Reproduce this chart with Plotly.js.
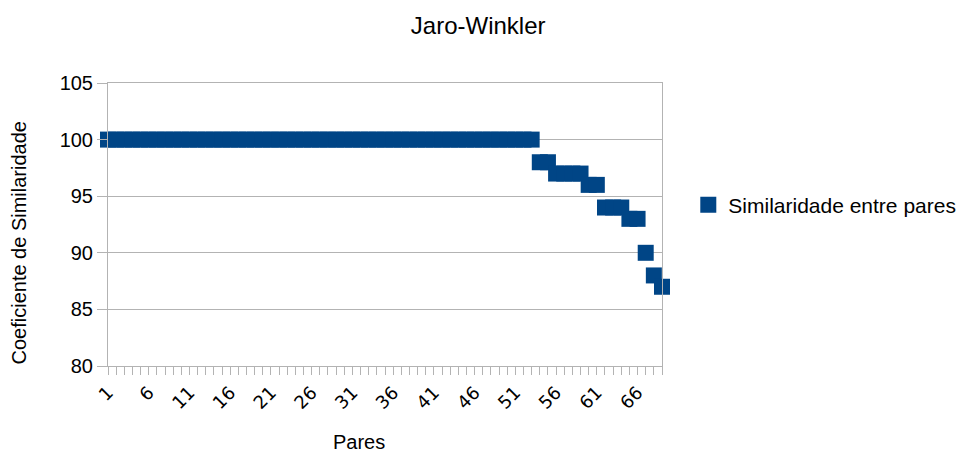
<!DOCTYPE html>
<html>
<head>
<meta charset="utf-8">
<script src="https://cdn.plot.ly/plotly-3.0.1.min.js"></script>
<style>
  html, body { margin: 0; padding: 0; background: #ffffff; }
  #chart { width: 964px; height: 453px; }
</style>
</head>
<body>
<div id="chart"></div>
<script>
// Pair numbers (x) and their Jaro-Winkler similarity score (%)
const pares = [
  1, 2, 3, 4, 5, 6, 7, 8, 9, 10, 11, 12, 13, 14, 15, 16, 17, 18, 19, 20,
  21, 22, 23, 24, 25, 26, 27, 28, 29, 30, 31, 32, 33, 34, 35, 36, 37, 38, 39, 40,
  41, 42, 43, 44, 45, 46, 47, 48, 49, 50, 51, 52, 53, 54, 55, 56, 57, 58, 59, 60,
  61, 62, 63, 64, 65, 66, 67, 68, 69
];
const similaridade = [
  100, 100, 100, 100, 100, 100, 100, 100, 100, 100, 100, 100, 100, 100, 100, 100, 100, 100, 100, 100,
  100, 100, 100, 100, 100, 100, 100, 100, 100, 100, 100, 100, 100, 100, 100, 100, 100, 100, 100, 100,
  100, 100, 100, 100, 100, 100, 100, 100, 100, 100, 100, 100, 100, 98, 98, 97, 97, 97, 97, 96,
  96, 94, 94, 94, 93, 93, 90, 88, 87
];
const xTickVals = [1, 6, 11, 16, 21, 26, 31, 36, 41, 46, 51, 56, 61, 66];
const xTickText = ['1', '6', '11', '16', '21', '26', '31', '36', '41', '46', '51', '56', '61', '66'];
const yTickVals = [80, 85, 90, 95, 100, 105];

const FONT = 'Liberation Sans, Arial, sans-serif';
const TICK_FONT = 'DejaVu Sans, sans-serif';
const GRID = '#b3b3b3';

const trace = {
  type: 'scatter',
  mode: 'markers',
  x: pares,
  y: similaridade,
  name: 'Similaridade entre pares',
  cliponaxis: false,
  marker: { symbol: 'square', size: 16, color: '#004586', line: { width: 0 } }
};

const layout = {
  width: 964,
  height: 453,
  paper_bgcolor: '#ffffff',
  plot_bgcolor: '#ffffff',
  margin: { l: 108, r: 302, t: 83, b: 87, pad: 0 },
  font: { family: FONT, color: '#000000' },
  title: {
    text: 'Jaro-Winkler',
    font: { family: FONT, size: 24, color: '#000000' },
    xref: 'container', yref: 'container',
    x: 0.496, xanchor: 'center',
    y: 0.943, yanchor: 'middle'
  },
  xaxis: {
    range: [1, 69],
    tickmode: 'array',
    tickvals: xTickVals,
    ticktext: xTickText,
    tickangle: -45,
    tickfont: { family: TICK_FONT, size: 18, color: '#000000' },
    ticks: 'outside',
    ticklen: 8,
    tickcolor: GRID,
    tickwidth: 1,
    minor: { dtick: 1, tick0: 1, ticks: 'outside', ticklen: 8, tickcolor: GRID, tickwidth: 1, showgrid: false },
    showgrid: false,
    zeroline: false,
    showline: true,
    linecolor: GRID,
    linewidth: 1,
    mirror: true,
    fixedrange: true
  },
  yaxis: {
    range: [80, 105],
    tickmode: 'array',
    tickvals: yTickVals,
    tickfont: { family: FONT, size: 20, color: '#000000' },
    ticks: 'outside',
    ticklen: 10,
    tickcolor: GRID,
    showgrid: true,
    gridcolor: GRID,
    gridwidth: 1,
    zeroline: false,
    showline: true,
    linecolor: GRID,
    linewidth: 1,
    mirror: true,
    fixedrange: true
  },
  showlegend: true,
  legend: {
    xref: 'container', yref: 'container',
    x: 0.714, xanchor: 'left',
    y: 0.547, yanchor: 'middle',
    font: { family: FONT, size: 21, color: '#000000' },
    bgcolor: 'rgba(0,0,0,0)'
  },
  annotations: [
    {
      text: 'Coeficiente de Similaridade',
      xref: 'paper', yref: 'paper',
      x: (18.5 - 108) / 554, y: (366 - 243) / 283,
      xanchor: 'center', yanchor: 'middle',
      textangle: -90,
      showarrow: false,
      font: { family: FONT, size: 20, color: '#000000' }
    },
    {
      text: 'Pares',
      xref: 'paper', yref: 'paper',
      x: (359 - 108) / 554, y: (366 - 442) / 283,
      xanchor: 'center', yanchor: 'middle',
      showarrow: false,
      font: { family: FONT, size: 20, color: '#000000' }
    }
  ]
};

Plotly.newPlot('chart', [trace], layout, { displayModeBar: false, staticPlot: true });
</script>
</body>
</html>
